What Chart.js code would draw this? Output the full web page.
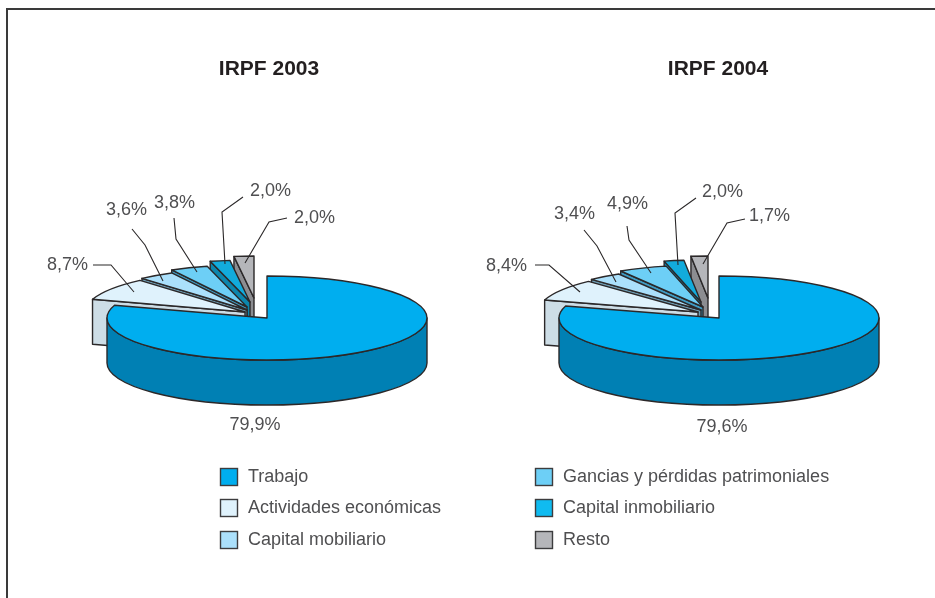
<!DOCTYPE html>
<html lang="es">
<head>
<meta charset="utf-8">
<title>IRPF 2003 / 2004</title>
<script src="https://cdn.jsdelivr.net/npm/chart.js@4"></script>
<style>
html,body{margin:0;padding:0;background:#fff;width:935px;height:598px;overflow:hidden}
#frame{position:absolute;left:6px;top:8px;width:929px;height:590px;border-top:2px solid #3a3a3a;border-left:2px solid #3a3a3a;box-sizing:border-box}
canvas{position:absolute;left:0;top:0}
</style>
</head>
<body>
<div id="frame"></div>
<canvas id="c1" width="935" height="598"></canvas>
<canvas id="c2" width="935" height="598"></canvas>
<script>
// ---- data ----
const categories = ["Trabajo","Actividades económicas","Capital mobiliario","Gancias y pérdidas patrimoniales","Capital inmobiliario","Resto"];
const values2003 = [79.9,8.7,3.6,3.8,2.0,2.0];
const values2004 = [79.6,8.4,3.4,4.9,2.0,1.7];
const title2003 = "IRPF 2003";
const title2004 = "IRPF 2004";

// ---- styles ----
const topColors  = ["#00aeef","#dff2fc","#abe0fb","#6dcff6","#12abdc","#b5b6ba"];
const wallColors = ["#0080b4","#cddde6","#6f9db3","#3f9cc4","#0c86ad","#8c8d91"];
const legendColors = ["#00aeef","#dff2fc","#abe0fb","#6dcff6","#10bbf0","#b5b6ba"];
const FONT = '"Liberation Sans", Arial, sans-serif';
const TEXT = "#4f4f51";
const LINE = "#2b2829";
const RX = 160, RY = 42, DEPTH = 45;

const layout2003 = {
  centre:[267,318], titleCentre:269,
  // position of each slice's apex once pulled out of the pie
  apex:[[267,318],[245,312],[247,310],[247,307],[250,302],[254,298]],
  text:[[255,425,"center"],[88,265,"right"],[147,210,"right"],[195,203,"right"],[291,191,"right"],[335,218,"right"]],
  leader:[null,
    [[93,265],[111,265],[134,292]],
    [[132,229],[145,245],[163,281]],
    [[174,218],[176,239],[197,272]],
    [[243,197],[222,212],[225,264]],
    [[287,218],[269,222],[245,263]]]
};
const layout2004 = {
  centre:[719,318], titleCentre:718,
  apex:[[719,318],[698,312],[701,310],[703,307],[701,302],[708,298]],
  text:[[722,427,"center"],[527,266,"right"],[595,214,"right"],[648,204,"right"],[743,192,"right"],[790,216,"right"]],
  leader:[null,
    [[535,265],[549,265],[580,292]],
    [[584,230],[597,246],[616,282]],
    [[627,226],[629,240],[651,273]],
    [[696,198],[675,213],[678,265]],
    [[745,219],[727,223],[703,264]]]
};

const fmt = v => v.toFixed(1).replace(".", ",") + "%";

function outline(ctx){ ctx.strokeStyle = LINE; ctx.lineWidth = 1.4; ctx.lineJoin = "round"; ctx.stroke(); }

const pie3d = {
  id:"pie3d",
  beforeDatasetsDraw(chart, args, opts){
    const ctx = chart.ctx, arcs = chart.getDatasetMeta(0).data, L = opts.layout;
    // back to front: last slice first, first slice (the big one) at the end
    for (let i = arcs.length-1; i >= 0; i--){
      const a = arcs[i], [cx,cy] = L.apex[i], s = a.startAngle, e = a.endAngle;
      const px = t => cx + RX*Math.cos(t), py = t => cy + RY*Math.sin(t);

      // cut wall on the counter-clockwise side of the pulled-out slices
      if (i > 0){
        ctx.beginPath();
        ctx.moveTo(px(s),py(s)); ctx.lineTo(cx,cy); ctx.lineTo(cx,cy+DEPTH);
        ctx.lineTo(px(s),py(s)+DEPTH); ctx.closePath();
        ctx.fillStyle = wallColors[i]; ctx.fill(); outline(ctx);
      }
      // outer rim where it faces the viewer (canvas angles 0..PI)
      const rs = Math.max(s,0), re = Math.min(e,Math.PI);
      if (re > rs){
        ctx.beginPath();
        ctx.ellipse(cx,cy,RX,RY,0,rs,re);
        ctx.ellipse(cx,cy+DEPTH,RX,RY,0,re,rs,true);
        ctx.closePath();
        ctx.fillStyle = wallColors[i]; ctx.fill(); outline(ctx);
      }
      // top face: the library's own arc, flattened
      ctx.save();
      ctx.translate(cx,cy); ctx.scale(1,RY/RX); ctx.translate(-a.x,-a.y);
      a.draw(ctx);
      ctx.restore();
      ctx.beginPath();
      ctx.moveTo(cx,cy); ctx.ellipse(cx,cy,RX,RY,0,s,e); ctx.closePath();
      outline(ctx);
    }
    return false;
  },
  afterDraw(chart, args, opts){
    const ctx = chart.ctx, L = opts.layout, vals = chart.data.datasets[0].data;
    ctx.save();
    ctx.font = "18px " + FONT; ctx.fillStyle = TEXT; ctx.textBaseline = "middle";
    vals.forEach((v,i)=>{
      const [x,y,al] = L.text[i];
      ctx.textAlign = al; ctx.fillStyle = TEXT; ctx.fillText(fmt(v),x,y);
      if (L.leader[i]){
        ctx.beginPath();
        L.leader[i].forEach(([lx,ly],k)=> k ? ctx.lineTo(lx,ly) : ctx.moveTo(lx,ly));
        ctx.strokeStyle = LINE; ctx.lineWidth = 1.1; ctx.lineJoin = "miter"; ctx.stroke();
      }
    });
    // legend column belonging to this chart
    ctx.textAlign = "left";
    opts.legend.items.forEach((idx,row)=>{
      const y = opts.legend.rows[row], x = opts.legend.x;
      ctx.fillStyle = legendColors[idx]; ctx.fillRect(x,y-8.5,17,17);
      ctx.strokeStyle = "#3c3c3e"; ctx.lineWidth = 1.4; ctx.strokeRect(x,y-8.5,17,17);
      ctx.fillStyle = TEXT; ctx.fillText(categories[idx],x+27.5,y);
    });
    ctx.restore();
  }
};

function makeChart(id, values, title, layout, legend){
  const pad = layout.titleCentre*2 < 935
    ? {right:935-layout.titleCentre*2, left:0}
    : {left:layout.titleCentre*2-935, right:0};
  return new Chart(document.getElementById(id),{
    type:"pie",
    data:{labels:categories,datasets:[{data:values,backgroundColor:topColors,borderWidth:0,radius:RX}]},
    plugins:[pie3d],
    options:{
      responsive:false,animation:false,events:[],
      layout:{padding:pad},
      plugins:{
        legend:{display:false},tooltip:{enabled:false},
        title:{display:true,text:title,color:"#231f20",
               font:{family:FONT,size:21,weight:"bold"},padding:{top:57,bottom:10}},
        pie3d:{layout,legend}
      }
    }
  });
}
const legendRows = [477,508,540];
makeChart("c1",values2003,title2003,layout2003,{x:220.5,rows:legendRows,items:[0,1,2]});
makeChart("c2",values2004,title2004,layout2004,{x:535.5,rows:legendRows,items:[3,4,5]});
</script>
</body>
</html>
